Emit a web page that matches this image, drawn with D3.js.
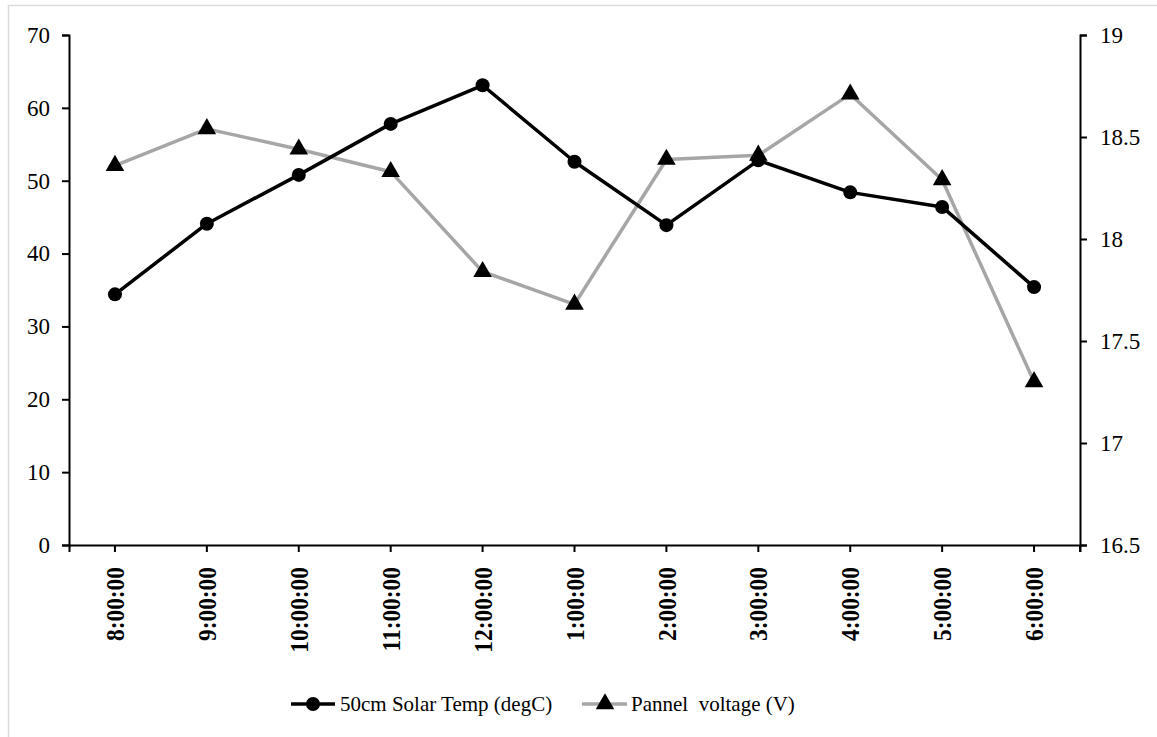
<!DOCTYPE html>
<html>
<head>
<meta charset="utf-8">
<script src="https://cdn.jsdelivr.net/npm/d3@7/dist/d3.min.js"></script>
<style>
  html, body { margin: 0; padding: 0; background: #fff; }
  svg { display: block; }
  text { font-family: "Liberation Serif", "Times New Roman", serif; fill: #000; }
</style>
</head>
<body>
<svg id="chart" width="1157" height="737"></svg>
<script>
// Hourly readings
const categories = ["8:00:00", "9:00:00", "10:00:00", "11:00:00", "12:00:00", "1:00:00",
                    "2:00:00", "3:00:00", "4:00:00", "5:00:00", "6:00:00"];
const solarTemp = [34.4, 44.1, 50.8, 57.8, 63.1, 52.6, 43.9, 52.8, 48.4, 46.4, 35.4];
const panelVoltage = [18.36, 18.54, 18.44, 18.33, 17.84, 17.68, 18.39, 18.41, 18.71, 18.29, 17.30];
const leftTicks = [0, 10, 20, 30, 40, 50, 60, 70];
const rightTicks = [16.5, 17, 17.5, 18, 18.5, 19];
const seriesNames = ["50cm Solar Temp (degC)", "Pannel  voltage (V)"];

const svg = d3.select("#chart");
const W = 1157, H = 737;
const plot = { left: 69, right: 1080, top: 35, bottom: 545 };

// outer frame
svg.append("rect")
  .attr("x", 8.5).attr("y", 5.5)
  .attr("width", W + 10).attr("height", H + 10)
  .attr("fill", "none").attr("stroke", "#d9d9d9").attr("stroke-width", 1.5);

const x = d3.scaleBand().domain(categories).range([plot.left, plot.right]);
const cx = d => x(d) + x.bandwidth() / 2;
const yL = d3.scaleLinear().domain([0, 70]).range([plot.bottom, plot.top]);
const yR = d3.scaleLinear().domain([16.5, 19]).range([plot.bottom, plot.top]);

// left axis
const gL = svg.append("g").attr("transform", `translate(${plot.left},0)`)
  .call(d3.axisLeft(yL).tickValues(leftTicks).tickSizeOuter(0).tickSize(7).tickPadding(12));
// right axis
const gR = svg.append("g").attr("transform", `translate(${plot.right},0)`)
  .call(d3.axisRight(yR).tickValues(rightTicks).tickFormat(d => String(d)).tickSizeOuter(0).tickSize(7).tickPadding(13));
// bottom axis
const gB = svg.append("g").attr("transform", `translate(0,${plot.bottom})`)
  .call(d3.axisBottom(x).tickSizeOuter(0).tickSize(7).tickPadding(12));

[gL, gR, gB].forEach(g => {
  g.attr("font-family", null);
  g.select(".domain").attr("stroke", "#000").attr("stroke-width", 2);
  g.selectAll(".tick line").attr("stroke", "#000").attr("stroke-width", 2);
});

gL.selectAll(".tick text").style("font-size", "23px").attr("x", -19);
gR.selectAll(".tick text").style("font-size", "23px").attr("x", 20);

// rotated bold category labels, slightly condensed along their length
gB.selectAll(".tick text")
  .style("font-size", "26px")
  .style("font-weight", "bold")
  .attr("text-anchor", "end")
  .attr("x", 0).attr("y", 0).attr("dy", "0.35em")
  .attr("transform", "translate(0,22) rotate(-90) scale(0.9,1)");

// small tick at the right end of the category axis
svg.append("line")
  .attr("x1", plot.right).attr("x2", plot.right)
  .attr("y1", plot.bottom).attr("y2", plot.bottom + 7)
  .attr("stroke", "#000").attr("stroke-width", 2);

const triangle = d3.symbol().type(d3.symbolTriangle).size(150);

// voltage series (right axis)
const lineR = d3.line().x((d, i) => cx(categories[i])).y(d => yR(d));
svg.append("path").datum(panelVoltage)
  .attr("d", lineR).attr("fill", "none")
  .attr("stroke", "#a6a6a6").attr("stroke-width", 3.5).attr("stroke-linejoin", "round");

// temperature series (left axis)
const lineL = d3.line().x((d, i) => cx(categories[i])).y(d => yL(d));
svg.append("path").datum(solarTemp)
  .attr("d", lineL).attr("fill", "none")
  .attr("stroke", "#000").attr("stroke-width", 3.5).attr("stroke-linejoin", "round");

svg.append("g").selectAll("circle").data(solarTemp).join("circle")
  .attr("cx", (d, i) => cx(categories[i])).attr("cy", d => yL(d))
  .attr("r", 7).attr("fill", "#000");

svg.append("g").selectAll("path").data(panelVoltage).join("path")
  .attr("d", triangle)
  .attr("transform", (d, i) => `translate(${cx(categories[i])},${yR(d)})`)
  .attr("fill", "#000");

// legend
const legY = 704;
const leg1 = svg.append("g");
leg1.append("line").attr("x1", 291).attr("x2", 335).attr("y1", legY).attr("y2", legY)
  .attr("stroke", "#000").attr("stroke-width", 3.5);
leg1.append("circle").attr("cx", 313).attr("cy", legY).attr("r", 7).attr("fill", "#000");
leg1.append("text").attr("x", 340).attr("y", legY).attr("dy", "0.35em")
  .style("font-size", "21px").text(seriesNames[0]);

const leg2 = svg.append("g");
leg2.append("line").attr("x1", 582).attr("x2", 627).attr("y1", legY).attr("y2", legY)
  .attr("stroke", "#a6a6a6").attr("stroke-width", 3.5);
leg2.append("path").attr("d", triangle).attr("transform", `translate(605,${legY})`).attr("fill", "#000");
leg2.append("text").attr("x", 631).attr("y", legY).attr("dy", "0.35em")
  .style("font-size", "21px").style("white-space", "pre").text(seriesNames[1]);
</script>
</body>
</html>
